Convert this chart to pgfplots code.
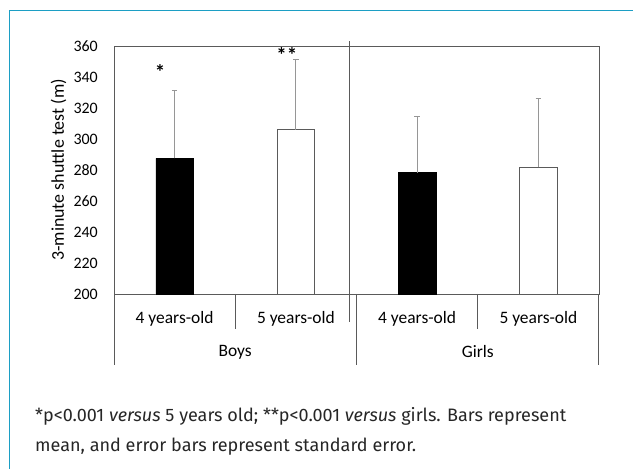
\documentclass[border=0pt]{standalone}
\usepackage{fontspec}
\setmainfont{Carlito}
\newfontfamily\capfont{Fira Sans}
\usepackage{pgfplots}
\pgfplotsset{compat=1.18}
\definecolor{frameblue}{RGB}{28,158,196}
\definecolor{axgray}{RGB}{90,90,90}
\definecolor{errgray}{RGB}{150,150,150}
\begin{document}
\begin{tikzpicture}[x=1bp,y=1bp]
\useasboundingbox (0,0) rectangle (633,469);
\draw[frameblue, line width=1.6bp] (9.5,0) -- (9.5,458.5) -- (633,458.5);
\begin{axis}[
  at={(114bp,175bp)}, anchor=south west,
  width=485bp, height=248bp, scale only axis,
  xmin=-0.5, xmax=3.5, ymin=200, ymax=360,
  ytick={200,220,...,360}, xtick=\empty,
  major tick length=0pt,
  axis line style={axgray, line width=0.9bp},
  /pgf/number format/assume math mode=true,
  yticklabel style={font=\fontsize{16}{18}\selectfont, anchor=east, inner sep=0pt, xshift=-16bp},
  ylabel={3-minute shuttle test (m)},
  ylabel style={font=\fontsize{18}{20}\selectfont, at={(axis description cs:0,0.5)}, anchor=south, yshift=44bp},
  clip=false,
]
\addplot[ybar, bar width=37.7bp, bar shift=0pt, fill=black, draw=black,
  error bars/.cd, y dir=plus, y explicit,
  error bar style={errgray, line width=0.9bp},
  error mark options={errgray, line width=0.9bp, rotate=90, mark size=2.7bp}]
  coordinates {(0,287.5) +- (0,43.9) (2,278.3) +- (0,36.1)};
\addplot[ybar, bar width=37.7bp, bar shift=0pt, fill=white, draw=axgray, line width=0.9bp,
  error bars/.cd, y dir=plus, y explicit,
  error bar style={errgray, line width=0.9bp},
  error mark options={errgray, line width=0.9bp, rotate=90, mark size=2.7bp}]
  coordinates {(1,306.0) +- (0,45.6) (3,281.7) +- (0,44.3)};
\node[font=\bfseries\fontsize{21}{22}\selectfont] at (axis cs:-0.12,343.5) {*};
\node[font=\bfseries\fontsize{21}{22}\selectfont] at (axis cs:0.925,354) {**};
\end{axis}
% category axis lines
\begin{scope}[axgray, line width=0.9bp]
\draw (114,175) -- (114,104);
\draw (598.7,175) -- (598.7,104);
\draw (356.5,175) -- (356.5,104);
\draw (235.2,175) -- (235.2,140);
\draw (477.7,175) -- (477.7,140);
\draw (349.2,427.5) -- (349.2,147.3);
\end{scope}
\begin{scope}[font=\fontsize{17.5}{19}\selectfont]
\node at (174.6,150) {4 years-old};
\node at (295.9,150) {5 years-old};
\node at (417.1,150) {4 years-old};
\node at (538.4,150) {5 years-old};
\node at (235.2,117) {Boys};
\node at (477.7,117) {Girls};
\end{scope}
\node[anchor=west, align=left, inner sep=0pt, font=\capfont\fontsize{18.1}{29.5}\selectfont, color=black!85] at (35,37.5)
 {*p<0.001 \textit{versus} 5 years old; **p<0.001 \textit{versus} girls. Bars represent\\mean, and error bars represent standard error.};
\end{tikzpicture}
\end{document}
